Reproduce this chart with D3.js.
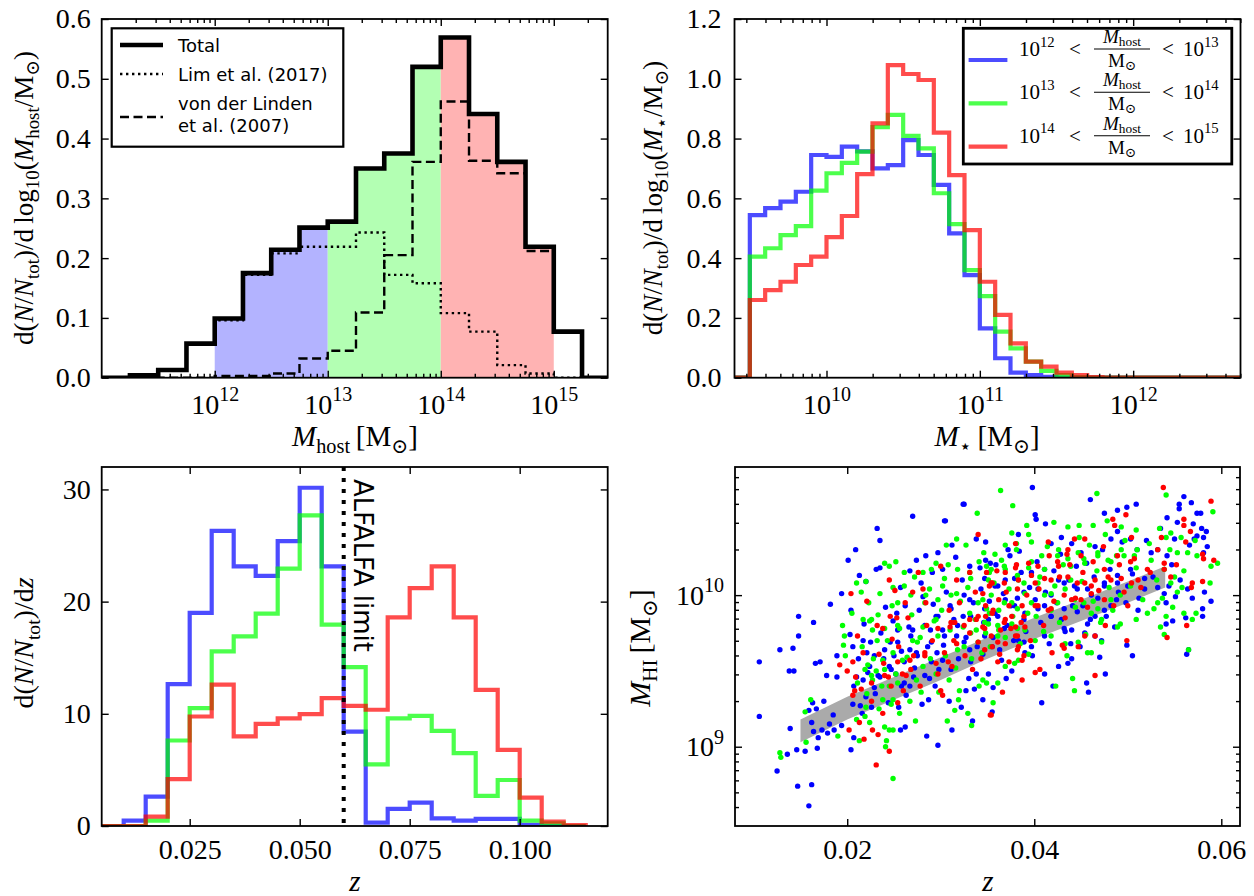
<!DOCTYPE html>
<html><head><meta charset="utf-8">
<script src="https://cdn.jsdelivr.net/npm/d3@7"></script>
<style>
body{margin:0;background:#fff;}
svg{display:block;}
text{font-family:"Liberation Serif","DejaVu Serif",serif;fill:#000;}
text.sans{font-family:"DejaVu Sans",sans-serif;}
</style></head><body>
<svg id="c" width="1254" height="896"></svg>
<script>
// ---------------- DATA ----------------
// Panel (a): host halo mass distribution, bins in log10(M_host/Msun)
const hostEdgesLog = [11.0,11.25,11.5,11.75,12.0,12.25,12.5,12.75,13.0,13.25,13.5,13.75,14.0,14.25,14.5,14.75,15.0,15.25,15.5];
const hostTotal = [0,0.004,0.013,0.057,0.099,0.175,0.214,0.251,0.261,0.350,0.375,0.520,0.569,0.441,0.361,0.219,0.077,0];
const hostLim   = [0,0.004,0.013,0.057,0.096,0.172,0.208,0.219,0.219,0.243,0.172,0.158,0.108,0.077,0.021,0.007,0,0];
const hostVdL   = [0,0,0,0,0.003,0.003,0.007,0.032,0.045,0.109,0.205,0.361,0.462,0.363,0.342,0.212,0.077,0];
const hostRanges = [[12,13],[13,14],[14,15]];
const fillColors = ["#b3b3ff","#b3ffb3","#ffb3b3"];
const legendA = ["Total","Lim et al. (2017)",["von der Linden","et al. (2007)"]];

// Panel (b): stellar mass distribution, bins in log10(M*/Msun)
const starEdgesLog = [9.4,9.5,9.6,9.7,9.8,9.9,10.0,10.1,10.2,10.3,10.4,10.5,10.6,10.7,10.8,10.9,11.0,11.1,11.2,11.3,11.4,11.5,11.6,11.7,11.8,11.9,12.0,12.1,12.2,12.3,12.4,12.5,12.6,12.7];
const starLow  = [0,0.544,0.567,0.589,0.622,0.745,0.739,0.773,0.757,0.700,0.711,0.795,0.745,0.645,0.483,0.343,0.165,0.065,0.017,0.009,0.003,0,0,0,0,0,0,0,0,0,0,0,0];
const starMid  = [0,0.405,0.433,0.477,0.507,0.626,0.684,0.719,0.756,0.838,0.879,0.809,0.767,0.617,0.514,0.360,0.273,0.154,0.098,0.054,0.023,0.009,0.002,0,0,0,0,0,0,0,0,0,0];
const starHigh = [0,0.260,0.293,0.321,0.377,0.405,0.470,0.541,0.681,0.851,1.046,1.016,0.996,0.820,0.678,0.494,0.321,0.210,0.115,0.054,0.037,0.017,0.009,0.002,0,0,0,0,0,0,0,0,0];
const seriesColors = ["#0000ff","#00ff00","#ff0000"];

// Panel (c): redshift distribution
const zEdges = [0.005,0.01,0.015,0.02,0.025,0.03,0.035,0.04,0.045,0.05,0.055,0.06,0.065,0.07,0.075,0.08,0.085,0.09,0.095,0.1,0.105,0.11,0.115];
const zLow  = [0,0.48,2.62,12.65,19.0,26.3,23.15,22.3,25.4,30.15,23.15,8.42,0.3,1.52,2.08,0.68,0.48,0.63,0.63,0.1,0,0];
const zMid  = [0,0,0.48,7.62,10.5,15.57,16.9,18.93,22.95,27.68,17.95,14.17,5.5,9.6,9.82,8.48,6.49,2.68,4.1,0.48,0.24,0];
const zHigh = [0,0,0.83,4.17,9.76,12.6,7.98,9.1,9.6,9.97,11.4,10.7,10.36,18.6,21.2,23.15,18.6,12.14,6.79,2.53,0.39,0.09];
const alfalfaLimit = 0.06;

// Panel (d): HI mass vs redshift  [z, log10(M_HI/Msun)]
const bandZ  = [0.015,0.02,0.025,0.03,0.035,0.04,0.045,0.05,0.054];
const bandLo = [9.03,9.18,9.31,9.44,9.58,9.71,9.83,9.95,10.05];
const bandHi = [9.18,9.33,9.46,9.59,9.72,9.85,9.97,10.09,10.19];

const blueGals = [
[0.0106,9.56],[0.0106,9.20],[0.0128,9.64],[0.0138,9.50],[0.0143,9.50],[0.0142,9.65],[0.0148,9.86],[0.0148,9.73],[0.0164,9.82],[0.0166,9.55],
[0.0171,9.56],[0.0178,9.47],[0.0189,9.60],[0.0189,9.46],[0.0182,9.94],[0.0139,9.12],[0.0146,8.98],[0.0155,8.97],[0.0136,8.95],[0.0125,8.84],
[0.0147,8.74],[0.0162,8.75],[0.0159,8.61],[0.0168,8.99],[0.0163,9.29],[0.0159,9.24],[0.0167,9.25],[0.0175,9.30],[0.0162,9.16],[0.0164,9.10],
[0.0169,9.06],[0.0173,9.11],[0.0179,9.09],[0.0181,9.15],[0.0185,9.21],[0.0186,9.11],[0.0194,9.14],[0.0204,8.98],[0.0207,9.06],[0.0201,10.23],
[0.0209,10.30],[0.0232,10.44],[0.0235,10.36],[0.0270,10.52],[0.0305,10.49],[0.0325,10.60],[0.0194,10.01],[0.0204,9.90],[0.0213,10.13],[0.0220,10.09],
[0.0231,10.17],[0.0235,10.18],[0.0203,9.74],[0.0206,9.66],[0.0210,9.46],[0.0207,9.40],[0.0206,9.28],[0.0217,9.70],[0.0221,9.62],[0.0224,9.53],
[0.0217,9.44],[0.0220,9.33],[0.0216,9.22],[0.0226,9.26],[0.0229,9.39],[0.0235,9.46],[0.0239,9.58],[0.0246,9.69],[0.0249,9.83],[0.0254,9.77],
[0.0245,9.53],[0.0252,9.48],[0.0258,9.40],[0.0255,9.26],[0.0257,9.11],[0.0262,9.13],[0.0267,9.40],[0.0271,9.46],[0.0274,9.62],[0.0267,9.64],
[0.0270,9.77],[0.0262,9.93],[0.0257,10.05],[0.0267,10.16],[0.0274,10.23],[0.0281,9.99],[0.0285,9.07],[0.0297,9.01],[0.0287,9.31],[0.0294,9.40],
[0.0298,9.51],[0.0302,9.57],[0.0312,9.11],[0.0322,9.26],[0.0327,9.37],[0.0334,9.17],[0.0345,9.31],[0.0338,9.48],[0.0345,9.61],[0.0331,9.64],
[0.0317,9.73],[0.0302,9.77],[0.0289,9.77],[0.0295,9.86],[0.0310,9.93],[0.0324,9.86],[0.0331,9.97],[0.0343,10.04],[0.0291,10.15],[0.0302,10.17],
[0.0312,10.33],[0.0338,10.37],[0.0331,10.19],[0.0348,10.23],[0.0297,10.28],[0.0284,10.26],
[0.0398,10.71],[0.0460,10.63],[0.0509,10.60],[0.0401,10.53],[0.0402,10.50],[0.0412,10.47],[0.0475,10.54],[0.0489,10.56],[0.0499,10.58],[0.0560,10.65],
[0.0555,10.57],[0.0568,10.61],[0.0574,10.54],[0.0578,10.54],[0.0555,10.60],[0.0542,10.51],[0.0553,10.48],[0.0579,10.44],[0.0584,10.42],[0.0574,10.39],
[0.0581,10.38],[0.0571,10.37],[0.0566,10.33],[0.0581,10.28],[0.0550,10.37],[0.0383,10.40],[0.0372,10.30],[0.0384,10.29],[0.0353,10.21],[0.0348,10.35],
[0.0369,10.10],[0.0358,10.06],[0.0418,10.34],[0.0429,10.38],[0.0440,10.34],[0.0450,10.28],[0.0465,10.32],[0.0482,10.37],[0.0489,10.42],[0.0503,10.37],
[0.0510,10.30],[0.0525,10.28],[0.0532,10.30],[0.0542,10.26],[0.0397,10.15],[0.0411,10.17],[0.0426,10.10],[0.0443,10.06],[0.0457,10.04],[0.0475,10.08],
[0.0489,10.08],[0.0500,10.06],[0.0518,10.04],[0.0532,10.05],[0.0544,10.06],[0.0539,10.01],[0.0551,9.99],[0.0564,10.04],[0.0582,10.02],[0.0569,9.98],
[0.0580,9.91],[0.0589,9.96],[0.0580,9.86],[0.0548,9.83],[0.0541,9.81],[0.0511,9.90],[0.0488,9.97],[0.0482,9.93],[0.0475,9.90],[0.0465,9.86],
[0.0457,9.81],[0.0465,9.73],[0.0472,9.70],[0.0454,9.75],[0.0440,9.77],[0.0429,9.84],[0.0418,9.86],[0.0411,9.93],[0.0401,9.97],[0.0390,9.88],
[0.0379,9.93],[0.0369,9.97],[0.0358,9.88],[0.0351,9.84],[0.0355,9.66],[0.0365,9.57],[0.0376,9.50],[0.0351,9.48],[0.0356,9.39],[0.0355,9.23],
[0.0408,9.29],[0.0411,9.48],[0.0420,9.40],[0.0426,9.53],[0.0436,9.55],[0.0440,9.58],[0.0456,9.42],[0.0458,9.36],[0.0470,9.59],[0.0476,9.48],
[0.0439,9.68],[0.0505,9.60],[0.0499,9.67],[0.0390,9.62],[0.0397,9.66],[0.0383,9.70],[0.0563,9.61],[0.0565,9.64],[0.0541,9.95],
[0.0347,10.11],[0.0361,10.06],[0.0379,10.11],[0.0389,10.02],[0.0404,10.04],[0.0418,10.00],[0.0432,10.08],[0.0446,10.04],[0.0461,10.00],[0.0475,10.06],
[0.0489,10.13],[0.0503,10.17],[0.0518,10.11],[0.0325,10.00],[0.0311,9.91],[0.0297,9.86],[0.0283,9.80],[0.0268,9.73],[0.0254,9.69],[0.0240,9.64],
[0.0229,9.60],[0.0275,9.60],[0.0290,9.69],[0.0304,9.73],[0.0318,9.80],[0.0332,9.86],[0.0347,9.91],[0.0361,9.86],[0.0375,9.93],[0.0389,9.84],
[0.0404,9.91],[0.0418,9.86],[0.0432,9.91],[0.0446,9.89],[0.0261,9.56],[0.0247,9.51],[0.0233,9.47],[0.0290,9.56],[0.0325,9.69],[0.0347,9.73],
[0.0368,9.78],[0.0389,9.69],[0.0411,9.73],[0.0432,9.78],[0.0261,9.42],[0.0283,9.47],[0.0311,9.51],[0.0332,9.56],[0.0324,10.60],[0.0304,10.49],
[0.0212,9.58],[0.0218,9.81],[0.0225,9.69],[0.0230,9.35],[0.0236,9.75],[0.0241,9.92],[0.0244,9.29],[0.0250,9.60],[0.0222,9.49],[0.0214,9.27],
[0.0253,9.88],[0.0258,9.63],[0.0263,9.34],[0.0266,9.79],[0.0272,9.52],[0.0277,9.90],[0.0280,9.28],[0.0286,9.66],[0.0292,9.94],[0.0296,9.62],
[0.0279,10.08],[0.0288,9.45],[0.0303,9.67],[0.0306,10.02],[0.0309,9.30],[0.0314,9.84],[0.0319,9.58],[0.0323,10.10],[0.0327,9.72],[0.0330,9.45],
[0.0335,9.95],[0.0339,9.66],[0.0342,10.18],[0.0346,9.82],[0.0316,10.25],[0.0336,9.38],[0.0352,9.96],[0.0356,9.72],[0.0359,10.20],[0.0363,9.64],
[0.0367,10.01],[0.0371,9.80],[0.0374,10.26],[0.0378,9.70],[0.0382,9.98],[0.0386,10.15],[0.0391,9.76],[0.0395,10.05],[0.0398,9.60],[0.0370,9.45],
[0.0403,10.22],[0.0407,9.82],[0.0412,10.02],[0.0416,9.68],[0.0421,10.16],[0.0424,9.95],[0.0428,10.27],[0.0433,9.76],[0.0437,10.10],[0.0441,9.93],
[0.0445,10.19],[0.0449,9.66],[0.0452,9.93],[0.0456,10.21],[0.0460,9.84],[0.0464,10.12],[0.0468,9.98],[0.0473,10.30],[0.0477,9.86],[0.0481,10.17],
[0.0486,9.79],[0.0490,10.02],[0.0494,10.35],[0.0498,9.95],[0.0505,10.14],[0.0512,9.98],[0.0520,10.36],[0.0527,10.12],[0.0535,10.44],[0.0547,10.20],
[0.0556,10.10],[0.0570,10.47],[0.0585,10.32],[0.0562,9.85]
];
const greenGals = [
[0.0128,8.96],[0.0129,8.93],[0.0161,9.31],[0.0155,9.23],[0.0156,9.03],[0.0190,9.07],[0.0195,9.80],[0.0197,9.73],[0.0198,9.60],[0.0196,9.67],
[0.0210,10.08],[0.0215,10.02],[0.0220,10.09],[0.0240,10.21],[0.0245,10.19],[0.0252,10.22],[0.0261,10.15],[0.0249,10.05],[0.0235,10.01],[0.0224,9.83],
[0.0227,9.77],[0.0232,9.70],[0.0222,9.54],[0.0227,9.44],[0.0231,9.50],[0.0221,9.35],[0.0220,9.26],[0.0224,9.16],[0.0213,9.04],[0.0210,9.18],
[0.0240,9.13],[0.0245,9.11],[0.0249,9.11],[0.0241,9.00],[0.0242,9.04],[0.0249,8.79],[0.0247,9.28],[0.0249,9.31],[0.0256,9.22],[0.0267,9.30],
[0.0279,9.36],[0.0273,9.17],[0.0307,9.17],[0.0315,9.24],[0.0329,9.22],[0.0333,9.14],[0.0320,9.37],[0.0309,9.44],[0.0295,9.48],[0.0281,9.53],
[0.0259,9.57],[0.0249,9.62],[0.0238,9.57],[0.0270,9.70],[0.0281,9.79],[0.0295,9.84],[0.0310,9.77],[0.0324,9.79],[0.0338,9.77],[0.0348,9.75],
[0.0331,9.88],[0.0317,10.01],[0.0302,10.06],[0.0288,10.04],[0.0281,10.15],[0.0295,10.21],[0.0306,10.33],[0.0317,10.37],[0.0327,10.33],[0.0339,10.54],
[0.0346,10.28],[0.0331,10.15],[0.0345,9.97],[0.0352,9.88],[0.0352,10.15],[0.0345,9.44],[0.0341,9.40],[0.0245,9.40],[0.0238,9.31],[0.0217,9.84],
[0.0364,10.69],[0.0377,10.59],[0.0467,10.67],[0.0541,10.66],[0.0591,10.55],[0.0392,10.46],[0.0394,10.40],[0.0421,10.48],[0.0436,10.45],[0.0448,10.46],
[0.0463,10.46],[0.0478,10.49],[0.0493,10.45],[0.0509,10.43],[0.0376,10.41],[0.0381,10.34],[0.0369,10.33],[0.0358,10.27],[0.0349,10.19],[0.0351,10.10],
[0.0369,10.17],[0.0383,10.10],[0.0394,10.18],[0.0408,10.26],[0.0426,10.30],[0.0436,10.24],[0.0447,10.28],[0.0454,10.21],[0.0468,10.26],[0.0479,10.23],
[0.0493,10.30],[0.0507,10.26],[0.0525,10.23],[0.0534,10.44],[0.0541,10.38],[0.0546,10.41],[0.0557,10.38],[0.0564,10.28],[0.0574,10.26],[0.0589,10.19],
[0.0596,10.21],[0.0553,10.28],[0.0560,10.16],[0.0539,10.17],[0.0550,10.12],[0.0546,10.08],[0.0553,10.02],[0.0537,9.98],[0.0532,9.95],[0.0560,9.88],
[0.0573,9.88],[0.0569,9.84],[0.0541,9.86],[0.0535,9.79],[0.0528,9.91],[0.0521,9.88],[0.0509,9.84],[0.0565,9.64],[0.0539,9.74],[0.0489,9.79],
[0.0492,9.81],[0.0472,9.84],[0.0461,9.88],[0.0443,9.97],[0.0433,10.04],[0.0418,10.01],[0.0404,10.08],[0.0390,10.01],[0.0376,9.95],[0.0362,9.90],
[0.0351,9.81],[0.0362,9.77],[0.0376,9.81],[0.0390,9.77],[0.0401,9.70],[0.0418,9.73],[0.0433,9.68],[0.0447,9.69],[0.0457,9.62],[0.0472,9.69],
[0.0394,9.61],[0.0383,9.57],[0.0369,9.53],[0.0361,9.42],[0.0349,9.42],[0.0356,9.29],[0.0423,9.40],[0.0441,9.45],[0.0443,9.37],[0.0461,9.62],
[0.0290,10.17],[0.0304,10.11],[0.0318,10.17],[0.0332,10.11],[0.0354,10.17],[0.0368,10.19],[0.0382,10.13],[0.0397,10.22],[0.0411,10.17],[0.0425,10.26],
[0.0439,10.19],[0.0453,10.24],[0.0468,10.28],[0.0482,10.22],[0.0496,10.26],[0.0510,10.30],[0.0254,9.95],[0.0268,10.00],[0.0283,9.95],[0.0297,9.97],
[0.0311,10.00],[0.0340,9.95],[0.0354,10.00],[0.0368,9.95],[0.0382,9.91],[0.0397,9.95],[0.0411,10.00],[0.0425,9.95],[0.0453,9.95],[0.0468,9.91],
[0.0482,9.97],[0.0226,9.84],[0.0240,9.78],[0.0254,9.80],[0.0275,9.69],[0.0297,9.73],[0.0318,9.64],[0.0340,9.69],[0.0361,9.73],[0.0382,9.78],
[0.0347,9.82],[0.0332,9.75],[0.0226,9.47],[0.0240,9.51],[0.0254,9.42],[0.0219,9.51],
[0.0205,9.88],[0.0211,9.42],[0.0216,9.66],[0.0223,9.95],[0.0228,9.58],[0.0233,9.87],[0.0237,9.40],[0.0243,9.70],[0.0248,9.93],[0.0219,9.20],
[0.0234,9.25],[0.0252,9.48],[0.0256,9.78],[0.0261,10.06],[0.0264,9.59],[0.0269,9.87],[0.0274,9.44],[0.0278,9.72],[0.0284,10.00],[0.0289,9.58],
[0.0293,9.83],[0.0298,9.36],[0.0272,10.12],[0.0301,9.90],[0.0305,9.60],[0.0308,10.20],[0.0312,9.82],[0.0316,9.52],[0.0321,9.96],[0.0325,9.66],
[0.0329,10.05],[0.0333,9.58],[0.0337,9.84],[0.0341,10.22],[0.0344,9.62],[0.0349,9.91],[0.0319,9.31],[0.0353,9.66],[0.0357,10.08],[0.0361,9.80],
[0.0365,10.23],[0.0369,9.72],[0.0373,10.04],[0.0377,9.86],[0.0381,10.30],[0.0385,9.68],[0.0389,10.08],[0.0393,9.88],[0.0397,10.35],[0.0379,9.55],
[0.0402,9.86],[0.0406,10.12],[0.0410,9.76],[0.0414,10.32],[0.0418,9.90],[0.0422,10.06],[0.0427,9.82],[0.0431,10.20],[0.0435,9.60],[0.0439,10.10],
[0.0444,9.92],[0.0448,10.38],[0.0451,10.09],[0.0455,9.74],[0.0459,10.33],[0.0463,9.96],[0.0467,10.16],[0.0471,9.82],[0.0476,10.40],[0.0480,10.05],
[0.0484,9.90],[0.0488,10.26],[0.0492,10.00],[0.0497,10.36],[0.0503,10.06],[0.0509,10.18],[0.0516,9.97],[0.0523,10.34],[0.0531,10.10],[0.0545,10.30],
[0.0558,10.05],[0.0572,10.36],[0.0588,10.08],[0.0548,9.92]
];
const redGals = [
[0.0231,8.88],[0.0245,8.97],[0.0233,9.08],[0.0218,9.05],[0.0202,9.11],[0.0213,9.16],[0.0227,9.11],[0.0206,9.34],[0.0208,9.37],[0.0204,10.01],
[0.0192,9.54],[0.0200,9.50],[0.0206,9.56],[0.0211,9.73],[0.0221,9.96],[0.0245,10.10],[0.0251,10.03],[0.0238,9.78],[0.0248,9.71],[0.0234,9.61],
[0.0244,9.46],[0.0247,9.40],[0.0238,9.22],[0.0254,9.29],[0.0259,9.48],[0.0263,9.47],[0.0267,9.57],[0.0253,9.85],[0.0262,9.95],[0.0270,10.02],
[0.0276,10.15],[0.0281,10.04],[0.0285,9.80],[0.0283,9.62],[0.0295,9.55],[0.0300,9.37],[0.0302,9.34],[0.0308,9.56],[0.0312,9.53],[0.0310,9.79],
[0.0315,9.82],[0.0317,9.68],[0.0300,10.19],[0.0317,10.10],[0.0331,10.15],[0.0340,10.40],[0.0331,9.84],[0.0338,9.84],[0.0345,9.79],[0.0348,9.93],
[0.0345,10.01],[0.0352,10.06],[0.0354,9.21],[0.0334,9.51],
[0.0538,10.71],[0.0589,10.62],[0.0498,10.53],[0.0484,10.50],[0.0560,10.50],[0.0560,10.46],[0.0504,10.38],[0.0486,10.46],[0.0454,10.37],[0.0443,10.37],
[0.0415,10.35],[0.0380,10.34],[0.0435,10.27],[0.0426,10.19],[0.0404,10.19],[0.0394,10.21],[0.0380,10.18],[0.0369,10.15],[0.0355,10.08],[0.0349,10.15],
[0.0383,10.10],[0.0401,10.08],[0.0418,10.10],[0.0436,10.12],[0.0454,10.08],[0.0465,10.10],[0.0482,10.10],[0.0493,10.11],[0.0504,10.08],[0.0511,10.10],
[0.0532,10.30],[0.0539,10.21],[0.0546,10.12],[0.0562,10.35],[0.0580,10.27],[0.0581,10.24],[0.0592,10.23],[0.0580,10.09],[0.0569,10.08],[0.0568,10.05],
[0.0542,9.72],[0.0563,9.80],[0.0362,9.97],[0.0373,9.93],[0.0387,9.93],[0.0401,9.93],[0.0415,9.90],[0.0440,9.97],[0.0450,9.97],[0.0461,10.01],
[0.0475,9.97],[0.0500,9.93],[0.0355,9.88],[0.0369,9.84],[0.0380,9.79],[0.0390,9.79],[0.0380,9.73],[0.0369,9.68],[0.0355,9.66],[0.0383,9.66],
[0.0387,9.57],[0.0373,9.56],[0.0363,9.61],[0.0401,9.49],[0.0406,9.51],[0.0419,9.62],[0.0430,9.67],[0.0432,9.65],[0.0447,9.66],[0.0454,9.73],
[0.0465,9.73],[0.0476,9.80],[0.0499,9.70],[0.0465,9.47],[0.0387,9.44],[0.0366,9.36],[0.0353,9.21],
[0.0347,9.78],[0.0354,9.73],[0.0361,9.69],[0.0368,9.82],[0.0375,9.78],[0.0382,9.73],[0.0389,9.86],[0.0404,9.93],[0.0418,9.91],[0.0432,10.00],
[0.0446,10.08],[0.0461,10.06],[0.0475,10.17],[0.0489,10.26],[0.0503,10.22],[0.0521,10.17],[0.0539,10.17],[0.0450,10.26],[0.0436,10.30],[0.0425,10.22],
[0.0411,10.11],[0.0397,10.13],[0.0382,10.04],[0.0368,10.08],[0.0354,10.08],[0.0340,9.86],[0.0325,9.80],[0.0311,9.82],[0.0297,9.78],[0.0283,9.60],
[0.0268,9.51],[0.0254,9.56],[0.0240,9.47],[0.0226,9.42],[0.0215,9.38],[0.0347,9.64],[0.0361,9.56],[0.0382,9.64],[0.0389,9.60],[0.0340,9.69],
[0.0209,9.46],[0.0217,9.62],[0.0226,9.30],[0.0232,9.80],[0.0239,9.55],[0.0246,9.86],[0.0255,9.66],[0.0260,9.37],[0.0265,9.85],[0.0271,9.60],
[0.0278,9.40],[0.0284,9.95],[0.0291,9.70],[0.0297,9.48],[0.0304,9.62],[0.0309,9.90],[0.0314,9.70],[0.0320,9.95],[0.0326,9.60],[0.0331,9.75],
[0.0337,10.02],[0.0343,9.58],[0.0348,9.86],[0.0356,9.90],[0.0360,10.16],[0.0364,9.77],[0.0370,10.02],[0.0376,9.86],[0.0381,10.20],[0.0386,9.82],
[0.0392,10.00],[0.0396,9.70],[0.0405,10.04],[0.0410,9.80],[0.0416,10.26],[0.0421,9.96],[0.0427,10.12],[0.0433,9.85],[0.0438,10.20],[0.0444,9.98],
[0.0452,10.15],[0.0457,9.92],[0.0463,10.22],[0.0469,10.03],[0.0474,10.32],[0.0479,10.12],[0.0485,9.93],[0.0491,10.20],[0.0496,10.02],[0.0507,10.24],
[0.0514,10.05],[0.0524,10.15],[0.0536,10.38],[0.0552,10.20],[0.0567,10.42]
];

// ---------------- DRAWING ----------------
const svg = d3.select('#c');
const SERIF = '"Liberation Serif","DejaVu Serif",serif';
const TICK_FS = 28;
const P = {
  tl:{x0:101.7,x1:607.7,y0:19,y1:377.7},
  tr:{x0:734.5,x1:1240.5,y0:19,y1:377.7},
  bl:{x0:101.7,x1:607.7,y0:467,y1:826},
  br:{x0:735,x1:1240,y0:467,y1:826}
};
const defs = svg.append('defs');
Object.entries(P).forEach(([k,p])=>{
  defs.append('clipPath').attr('id','clip-'+k).append('rect')
    .attr('x',p.x0).attr('y',p.y0).attr('width',p.x1-p.x0).attr('height',p.y1-p.y0);
});

function rich(parent, parts, fs, attrs){
  const t = parent.append('text').style('font-size', fs+'px').style('font-family',SERIF);
  Object.entries(attrs||{}).forEach(([k,v])=>t.attr(k,v));
  let cur = 0;
  parts.forEach(p=>{
    let off = 0, size = fs;
    if (p.sub){ off = (p.off!=null?p.off:0.24)*fs; size = 0.7*fs; }
    if (p.sup){ off = -0.45*fs; size = 0.7*fs; }
    const ts = t.append('tspan').text(p.t).style('font-size', size+'px').attr('dy', off-cur);
    if (p.it) ts.style('font-style','italic');
    cur = off;
  });
  return t;
}
function powLabels(sel){
  sel.selectAll('.tick text').each(function(d){
    const t = d3.select(this); t.text(null);
    t.append('tspan').text('10');
    t.append('tspan').style('font-size','20px').attr('dy','-0.62em').text(Math.round(Math.log10(d)));
  });
}
function minorLog(lo, hi){
  const out=[];
  for(let e=Math.floor(Math.log10(lo)); e<=Math.ceil(Math.log10(hi)); e++)
    for(let m=2;m<=9;m++){ const v=m*Math.pow(10,e); if(v>=lo*1.0001 && v<=hi*0.9999) out.push(v); }
  return out;
}
function styleAxis(g){
  g.select('.domain').remove();
  g.attr('font-family',null).attr('font-size',null);
  g.selectAll('text').style('font-family',SERIF).style('font-size',TICK_FS+'px').attr('fill','#000');
  g.selectAll('line').attr('stroke','#000').attr('stroke-width',1.4);
}
function axes(p, xs, ys, c){
  const g = svg.append('g');
  const bx = g.append('g').attr('transform',`translate(0,${p.y1})`)
    .call(d3.axisBottom(xs).tickValues(c.xMajor).tickSizeInner(-7).tickSizeOuter(0).tickPadding(c.xPad).tickFormat(c.xFmt||(()=>'')));
  styleAxis(bx); if(c.xPow) powLabels(bx);
  const tx = g.append('g').attr('transform',`translate(0,${p.y0})`)
    .call(d3.axisTop(xs).tickValues(c.xMajor).tickSizeInner(-7).tickSizeOuter(0).tickFormat(()=>''));
  styleAxis(tx);
  const ly = g.append('g').attr('transform',`translate(${p.x0},0)`)
    .call(d3.axisLeft(ys).tickValues(c.yMajor).tickSizeInner(-7).tickSizeOuter(0).tickPadding(c.yPad).tickFormat(c.yFmt||(()=>'')));
  styleAxis(ly); if(c.yPow) powLabels(ly);
  const ry = g.append('g').attr('transform',`translate(${p.x1},0)`)
    .call(d3.axisRight(ys).tickValues(c.yMajor).tickSizeInner(-7).tickSizeOuter(0).tickFormat(()=>''));
  styleAxis(ry);
  if (c.xMinor){
    [[d3.axisBottom,p.y1],[d3.axisTop,p.y0]].forEach(([f,y])=>{
      const m = g.append('g').attr('transform',`translate(0,${y})`).call(f(xs).tickValues(c.xMinor).tickSizeInner(-4).tickSizeOuter(0).tickFormat(()=>''));
      styleAxis(m);
    });
  }
  if (c.yMinor){
    [[d3.axisLeft,p.x0],[d3.axisRight,p.x1]].forEach(([f,x])=>{
      const m = g.append('g').attr('transform',`translate(${x},0)`).call(f(ys).tickValues(c.yMinor).tickSizeInner(-4).tickSizeOuter(0).tickFormat(()=>''));
      styleAxis(m);
    });
  }
  g.append('rect').attr('x',p.x0).attr('y',p.y0).attr('width',p.x1-p.x0).attr('height',p.y1-p.y0)
    .attr('fill','none').attr('stroke','#000').attr('stroke-width',1.8);
}
function stepPts(edges, vals){
  const pts=[[edges[0],0]];
  vals.forEach((v,i)=>{ pts.push([edges[i],v]); pts.push([edges[i+1],v]); });
  pts.push([edges[edges.length-1],0]);
  return pts;
}

// ===== Panel (a) =====
{
  const p = P.tl;
  const xs = d3.scaleLog().domain([1e11,3e15]).range([p.x0,p.x1]);
  const ys = d3.scaleLinear().domain([0,0.6]).range([p.y1,p.y0]);
  const edges = hostEdgesLog.map(e=>Math.pow(10,e));
  const g = svg.append('g').attr('clip-path','url(#clip-tl)');
  hostRanges.forEach((r,k)=>{
    const ed=[], vs=[];
    hostEdgesLog.forEach((e,i)=>{ if(i<hostTotal.length && e>=r[0]-1e-9 && hostEdgesLog[i+1]<=r[1]+1e-9){ if(!ed.length) ed.push(edges[i]); ed.push(edges[i+1]); vs.push(hostTotal[i]); } });
    const pts = stepPts(ed, vs);
    g.append('path').datum(pts).attr('fill',fillColors[k])
      .attr('d', d3.area().x(d=>xs(d[0])).y0(ys(0)).y1(d=>ys(d[1])));
  });
  const line = d3.line().x(d=>xs(d[0])).y(d=>ys(d[1]));
  g.append('path').datum(stepPts(edges,hostLim)).attr('d',line).attr('fill','none').attr('stroke','#000').attr('stroke-width',2.4).attr('stroke-dasharray','2.4,3.6');
  g.append('path').datum(stepPts(edges,hostVdL)).attr('d',line).attr('fill','none').attr('stroke','#000').attr('stroke-width',2.4).attr('stroke-dasharray','9,4.5');
  g.append('path').datum(stepPts(edges,hostTotal)).attr('d',line).attr('fill','none').attr('stroke','#000').attr('stroke-width',4.6).attr('stroke-linejoin','miter');
  axes(p, xs, ys, {xMajor:[1e12,1e13,1e14,1e15], xMinor:minorLog(1e11,3e15), xPad:16, xFmt:d=>d, xPow:true,
    yMajor:[0,0.1,0.2,0.3,0.4,0.5,0.6], yPad:11, yFmt:d3.format('.1f')});
  const lg = svg.append('g');
  lg.append('rect').attr('x',111.7).attr('y',28.3).attr('width',231.6).attr('height',118.4).attr('fill','#fff').attr('stroke','#000').attr('stroke-width',2.2);
  lg.append('line').attr('x1',120).attr('x2',163).attr('y1',45).attr('y2',45).attr('stroke','#000').attr('stroke-width',4.6);
  lg.append('line').attr('x1',120).attr('x2',163).attr('y1',74).attr('y2',74).attr('stroke','#000').attr('stroke-width',2.4).attr('stroke-dasharray','2.4,3.6');
  lg.append('line').attr('x1',120).attr('x2',163).attr('y1',117).attr('y2',117).attr('stroke','#000').attr('stroke-width',2.4).attr('stroke-dasharray','9,4.5');
  lg.append('text').attr('class','sans').attr('x',178).attr('y',52).attr('font-size',18).text(legendA[0]);
  lg.append('text').attr('class','sans').attr('x',178).attr('y',81).attr('font-size',18).text(legendA[1]);
  lg.append('text').attr('class','sans').attr('x',178).attr('y',110).attr('font-size',18).text(legendA[2][0]);
  lg.append('text').attr('class','sans').attr('x',178).attr('y',132).attr('font-size',18).text(legendA[2][1]);
  rich(svg, [{t:'M',it:1},{t:'host',sub:1},{t:'\u2009[M'},{t:'\u2299',sub:1},{t:']'}], 29, {x:355,y:446,'text-anchor':'middle'});
  rich(svg.append('g').attr('transform','translate(33,198) rotate(-90)'),
    [{t:'d('},{t:'N',it:1},{t:'/'},{t:'N',it:1},{t:'tot',sub:1},{t:')/d\u2009log'},{t:'10',sub:1},{t:'('},{t:'M',it:1},{t:'host',sub:1},{t:'/M'},{t:'\u2299',sub:1},{t:')'}],
    27, {x:0,y:0,'text-anchor':'middle'});
}

// ===== Panel (b) =====
{
  const p = P.tr;
  const xs = d3.scaleLog().domain([Math.pow(10,9.4),Math.pow(10,12.7)]).range([p.x0,p.x1]);
  const ys = d3.scaleLinear().domain([0,1.2]).range([p.y1,p.y0]);
  const edges = starEdgesLog.map(e=>Math.pow(10,e));
  const g = svg.append('g').attr('clip-path','url(#clip-tr)');
  const line = d3.line().x(d=>xs(d[0])).y(d=>ys(d[1]));
  [starLow,starMid,starHigh].forEach((s,k)=>{
    g.append('path').datum(stepPts(edges,s)).attr('d',line).attr('fill','none')
      .attr('stroke',seriesColors[k]).attr('stroke-opacity',0.7).attr('stroke-width',4.2).attr('stroke-linejoin','miter');
  });
  axes(p, xs, ys, {xMajor:[1e10,1e11,1e12], xMinor:minorLog(Math.pow(10,9.4),Math.pow(10,12.7)), xPad:16, xFmt:d=>d, xPow:true,
    yMajor:[0,0.2,0.4,0.6,0.8,1.0,1.2], yPad:13, yFmt:d3.format('.1f')});
  const lg = svg.append('g');
  lg.append('rect').attr('x',963.3).attr('y',28.3).attr('width',268.5).attr('height',135.7).attr('fill','#fff').attr('stroke','#000').attr('stroke-width',2.8);
  const rowY = [60,103.3,146.7];
  hostRanges.forEach((r,k)=>{
    const h = rowY[k], a = h-11;
    lg.append('line').attr('x1',968.6).attr('x2',1007.4).attr('y1',h).attr('y2',h)
      .attr('stroke',seriesColors[k]).attr('stroke-opacity',0.7).attr('stroke-width',4.2);
    rich(lg, [{t:'10'},{t:String(r[0]),sup:1}], 21, {x:1019,y:a+7});
    rich(lg, [{t:'<'}], 21, {x:1075,y:a+7,'text-anchor':'middle'});
    rich(lg, [{t:'M',it:1},{t:'host',sub:1,off:0.16}], 19, {x:1122,y:a-6,'text-anchor':'middle'});
    lg.append('line').attr('x1',1094).attr('x2',1150).attr('y1',a).attr('y2',a).attr('stroke','#000').attr('stroke-width',1.1);
    rich(lg, [{t:'M'},{t:'\u2299',sub:1,off:0.16}], 19, {x:1122,y:a+18,'text-anchor':'middle'});
    rich(lg, [{t:'<'}], 21, {x:1168,y:a+7,'text-anchor':'middle'});
    rich(lg, [{t:'10'},{t:String(r[1]),sup:1}], 21, {x:1183,y:a+7});
  });
  rich(svg, [{t:'M',it:1},{t:'\u22c6',sub:1},{t:'\u2009[M'},{t:'\u2299',sub:1},{t:']'}], 29, {x:987,y:446,'text-anchor':'middle'});
  rich(svg.append('g').attr('transform','translate(662,198) rotate(-90)'),
    [{t:'d('},{t:'N',it:1},{t:'/'},{t:'N',it:1},{t:'tot',sub:1},{t:')/d\u2009log'},{t:'10',sub:1},{t:'('},{t:'M',it:1},{t:'\u22c6',sub:1},{t:'/M'},{t:'\u2299',sub:1},{t:')'}],
    27, {x:0,y:0,'text-anchor':'middle'});
}

// ===== Panel (c) =====
{
  const p = P.bl;
  const xs = d3.scaleLinear().domain([0.005,0.12]).range([p.x0,p.x1]);
  const ys = d3.scaleLinear().domain([0,32]).range([p.y1,p.y0]);
  const g = svg.append('g').attr('clip-path','url(#clip-bl)');
  const line = d3.line().x(d=>xs(d[0])).y(d=>ys(d[1]));
  [zLow,zMid,zHigh].forEach((s,k)=>{
    g.append('path').datum(stepPts(zEdges,s)).attr('d',line).attr('fill','none')
      .attr('stroke',seriesColors[k]).attr('stroke-opacity',0.7).attr('stroke-width',4.2).attr('stroke-linejoin','miter');
  });
  g.append('line').attr('x1',xs(alfalfaLimit)).attr('x2',xs(alfalfaLimit)).attr('y1',p.y0).attr('y2',p.y1)
    .attr('stroke','#000').attr('stroke-width',4).attr('stroke-dasharray','4,7');
  svg.append('text').attr('class','sans').attr('font-size',26)
    .attr('transform',`translate(${xs(alfalfaLimit)+10},479) rotate(90)`).attr('x',0).attr('y',0).text('ALFALFA limit');
  axes(p, xs, ys, {xMajor:[0.025,0.05,0.075,0.1], xPad:13, xFmt:d3.format('.3f'),
    yMajor:[0,10,20,30], yPad:11, yFmt:d3.format('d')});
  rich(svg, [{t:'z',it:1}], 29, {x:355,y:891,'text-anchor':'middle'});
  rich(svg.append('g').attr('transform','translate(33,643) rotate(-90)'),
    [{t:'d('},{t:'N',it:1},{t:'/'},{t:'N',it:1},{t:'tot',sub:1},{t:')/d'},{t:'z',it:1}],
    28, {x:0,y:0,'text-anchor':'middle'});
}

// ===== Panel (d) =====
{
  const p = P.br;
  const xs = d3.scaleLinear().domain([0.008,0.062]).range([p.x0,p.x1]);
  const ys = d3.scaleLog().domain([3e8,7e10]).range([p.y1,p.y0]);
  const g = svg.append('g').attr('clip-path','url(#clip-br)');
  g.append('path').datum(bandZ.map((z,i)=>[z,bandLo[i],bandHi[i]])).attr('fill','#aaaaaa')
    .attr('d', d3.area().x(d=>xs(d[0])).y0(d=>ys(Math.pow(10,d[1]))).y1(d=>ys(Math.pow(10,d[2]))));
  [blueGals,greenGals,redGals].forEach((arr,k)=>{
    g.append('g').selectAll('circle').data(arr).join('circle')
      .attr('cx',d=>xs(d[0])).attr('cy',d=>ys(Math.pow(10,d[1]))).attr('r',2.7).attr('fill',seriesColors[k]);
  });
  axes(p, xs, ys, {xMajor:[0.02,0.04,0.06], xPad:13, xFmt:d3.format('.2f'),
    yMajor:[1e9,1e10], yMinor:minorLog(3e8,7e10), yPad:11, yFmt:d=>d, yPow:true});
  rich(svg, [{t:'z',it:1}], 29, {x:988,y:891,'text-anchor':'middle'});
  rich(svg.append('g').attr('transform','translate(650,648) rotate(-90)'),
    [{t:'M',it:1},{t:'HI',sub:1},{t:'\u2009[M'},{t:'\u2299',sub:1},{t:']'}],
    30, {x:0,y:0,'text-anchor':'middle'});
}
</script></body></html>
